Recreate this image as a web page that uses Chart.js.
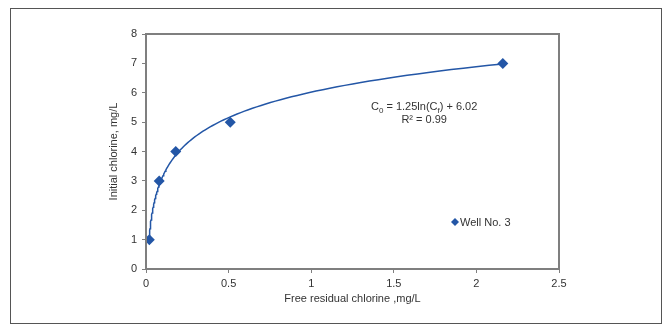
<!DOCTYPE html>
<html>
<head>
<meta charset="utf-8">
<script src="https://cdn.jsdelivr.net/npm/chart.js@4"></script>
<style>
html,body{margin:0;padding:0;background:#fff;}
#wrap{width:664px;height:327px;position:relative;}
</style>
</head>
<body>
<div id="wrap"><canvas id="c" width="664" height="327"></canvas></div>
<script>
// Data
const residualChlorine = [0.02, 0.08, 0.18, 0.51, 2.16];
const initialChlorine = [1, 3, 4, 5, 7];
const fitCoefficients = [1.25, 6.02]; // C0 = a*ln(Cf) + b (as printed on chart)
const xTicks = [0, 0.5, 1, 1.5, 2, 2.5];
const yTicks = [0, 1, 2, 3, 4, 5, 6, 7, 8];
const seriesName = 'Well No. 3';

// Trendline evaluated from the printed equation over the data range
const xMin = residualChlorine[0], xMax = residualChlorine[residualChlorine.length - 1];
const trend = [];
const steps = 120;
for (let i = 0; i <= steps; i++) {
  const x = xMin * Math.pow(xMax / xMin, i / steps);
  trend.push({x: x, y: fitCoefficients[0] * Math.log(x) + fitCoefficients[1]});
}

const blue = '#2356a6';
const axisGray = '#7f7f7f';
const fontFam = '"Liberation Sans", Arial, sans-serif';

const framePlugin = {
  id: 'frame',
  afterDraw(chart) {
    const ctx = chart.ctx;
    const a = chart.chartArea;
    ctx.save();
    // plot area border
    ctx.strokeStyle = axisGray;
    ctx.lineWidth = 2;
    ctx.strokeRect(a.left, a.top, a.right - a.left, a.bottom - a.top);
    // outer frame
    ctx.strokeStyle = '#555';
    ctx.lineWidth = 1;
    ctx.strokeRect(10.5, 8.5, 651, 315);
    // equation text
    ctx.fillStyle = '#333';
    ctx.font = '11px ' + fontFam;
    ctx.textBaseline = 'alphabetic';
    const eqX = 371, eqY = 110;
    let x = eqX;
    const parts = [
      ['C', 11, 0], ['0', 8, 3], [' = ' + fitCoefficients[0] + 'ln(C', 11, 0], ['f', 8, 3], [') + ' + fitCoefficients[1].toFixed(2), 11, 0]
    ];
    for (const [t, s, dy] of parts) {
      ctx.font = s + 'px ' + fontFam;
      ctx.fillText(t, x, eqY + dy);
      x += ctx.measureText(t).width;
    }
    ctx.font = '11px ' + fontFam;
    ctx.textAlign = 'center';
    ctx.fillText('R\u00b2 = 0.99', (eqX + x) / 2, eqY + 13);
    // legend
    ctx.textAlign = 'left';
    ctx.fillStyle = blue;
    const lx = 455, ly = 222;
    ctx.beginPath();
    ctx.moveTo(lx, ly - 4); ctx.lineTo(lx + 4, ly); ctx.lineTo(lx, ly + 4); ctx.lineTo(lx - 4, ly); ctx.closePath();
    ctx.fill();
    ctx.fillStyle = '#333';
    ctx.textBaseline = 'middle';
    ctx.fillText(seriesName, lx + 5, ly + 1);
    ctx.restore();
  }
};

new Chart(document.getElementById('c'), {
  type: 'scatter',
  data: {
    datasets: [
      {
        label: seriesName,
        data: residualChlorine.map((x, i) => ({x: x, y: initialChlorine[i]})),
        pointStyle: 'rectRot',
        pointRadius: 5.5,
        pointHoverRadius: 5.5,
        backgroundColor: blue,
        borderColor: blue,
        borderWidth: 0,
        showLine: false,
        order: 0
      },
      {
        label: 'trend',
        data: trend,
        showLine: true,
        pointRadius: 0,
        borderColor: blue,
        borderWidth: 1.5,
        fill: false,
        order: 1
      }
    ]
  },
  options: {
    responsive: false,
    animation: false,
    events: [],
    layout: {padding: {left: 0, top: 34, right: 105, bottom: 0}},
    plugins: {legend: {display: false}, tooltip: {enabled: false}},
    scales: {
      x: {
        type: 'linear',
        min: 0, max: 2.5,
        afterBuildTicks(scale) { scale.ticks = xTicks.map(v => ({value: v})); },
        afterFit(scale) { scale.height = 58; },
        grid: {display: true, drawOnChartArea: false, drawTicks: true, tickLength: 4, color: axisGray, lineWidth: 1},
        border: {display: true, color: axisGray, width: 2},
        ticks: {color: '#333', font: {family: fontFam, size: 11}, padding: 4, maxRotation: 0,
          callback: v => String(v)},
        title: {display: true, text: 'Free residual chlorine ,mg/L', color: '#333',
          font: {family: fontFam, size: 11}, padding: {top: 0, bottom: 21}}
      },
      y: {
        type: 'linear',
        min: 0, max: 8,
        afterBuildTicks(scale) { scale.ticks = yTicks.map(v => ({value: v})); },
        afterFit(scale) { scale.width = 146; },
        grid: {display: true, drawOnChartArea: false, drawTicks: true, tickLength: 4, color: axisGray, lineWidth: 1},
        border: {display: true, color: axisGray, width: 2},
        ticks: {color: '#333', font: {family: fontFam, size: 11}, padding: 5,
          callback: v => String(v)},
        title: {display: true, text: 'Initial chlorine, mg/L', color: '#333',
          font: {family: fontFam, size: 11}, padding: {top: 107, bottom: 0}}
      }
    }
  },
  plugins: [framePlugin]
});
</script>
</body>
</html>
